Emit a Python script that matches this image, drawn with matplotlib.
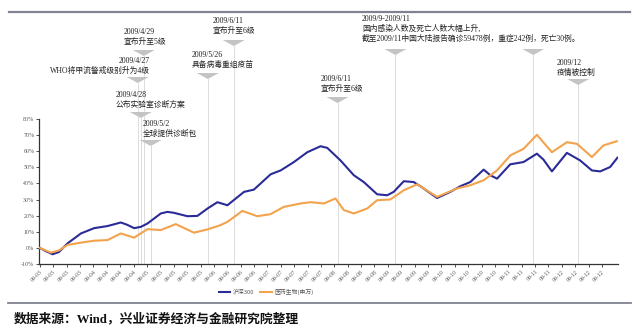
import matplotlib
matplotlib.use("Agg")
import matplotlib.pyplot as plt
import matplotlib.transforms as mtransforms
from matplotlib.patches import Polygon
from matplotlib.lines import Line2D

plt.rcParams['font.family'] = ['Liberation Serif', 'Noto Sans CJK SC']

# x axis: one tick per week, Mar 2009 .. Dec 2009
tick_labels = ['09-03', '09-03', '09-03', '09-03',
               '09-04', '09-04', '09-04', '09-04',
               '09-05', '09-05', '09-05', '09-05', '09-05',
               '09-06', '09-06', '09-06', '09-06',
               '09-07', '09-07', '09-07', '09-07', '09-07',
               '09-08', '09-08', '09-08', '09-08',
               '09-09', '09-09', '09-09', '09-09',
               '09-10', '09-10', '09-10', '09-10', '09-10',
               '09-11', '09-11', '09-11', '09-11',
               '09-12', '09-12', '09-12', '09-12']

# 沪深300 cumulative return (%), x in weeks
hs300_x = [0.0, 0.45, 0.95, 1.42, 2.07, 3.06, 4.05, 5.05, 6.04, 6.49, 7.04, 7.54,
           8.04, 9.03, 9.53, 10.02, 11.02, 11.77, 12.51, 13.26, 14.01, 15.25,
           15.99, 17.24, 17.99, 18.98, 19.98, 20.97, 21.47, 22.46, 23.46, 24.2,
           25.2, 25.95, 26.44, 27.19, 27.93, 28.43, 29.68, 30.67, 31.42, 32.16,
           33.16, 33.66, 34.16, 35.15, 36.14, 37.14, 37.63, 38.26, 39.38, 40.37,
           41.25, 41.87, 42.61, 43.16]
hs300_y = [0.0, -2.0, -3.9, -2.5, 2.9, 9.0, 12.3, 13.6, 15.8, 14.5, 12.3, 13.1,
           15.2, 21.4, 22.4, 21.8, 19.7, 19.9, 24.4, 28.4, 26.5, 34.8,
           36.2, 45.7, 48.1, 53.3, 59.4, 63.1, 62.1, 54.3, 45.1, 40.9,
           33.3, 32.7, 34.8, 41.4, 40.9, 38.3, 31.0, 34.8, 38.3, 40.9,
           48.6, 45.1, 43.0, 51.9, 53.3, 58.5, 54.8, 47.5, 59.0, 54.3,
           48.1, 47.5, 50.2, 56.0]

# 医药生物(申万) cumulative return (%)
yiyao_x = [0.0, 0.82, 1.42, 2.07, 3.06, 4.05, 5.05, 6.04, 7.04, 8.04, 9.03, 10.15,
           11.51, 12.51, 13.51, 14.01, 15.13, 16.25, 17.24, 18.23, 19.48, 20.22,
           21.22, 22.09, 22.71, 23.46, 24.46, 25.2, 26.19, 27.19, 28.19, 29.68,
           31.17, 32.16, 33.16, 34.16, 35.15, 36.14, 37.14, 38.26, 39.38, 40.13,
           41.25, 42.11, 43.11]
yiyao_y = [0.0, -2.9, -1.5, 1.9, 3.3, 4.5, 4.9, 9.0, 6.4, 11.7, 11.1, 14.8,
           9.5, 11.5, 14.2, 16.2, 23.0, 19.7, 21.0, 25.5, 27.6, 28.4,
           27.6, 30.7, 23.5, 21.4, 24.5, 29.6, 30.1, 35.8, 39.5, 31.7,
           36.9, 38.9, 42.0, 48.1, 57.4, 61.5, 70.2, 59.4, 65.6, 64.6,
           56.4, 63.6, 66.2]

# events: line position (weeks), text, text anchor px (x, top y), alignment, triangle top px
ev_x = [7.31, 7.54, 7.76, 8.28, 12.54, 14.48, 22.24, 26.57, 40.22]
ev_text = ['2009/4/27\nWHO将甲流警戒级别升为4级',
           '2009/4/28\n公布实验室诊断方案',
           '2009/4/29\n宣布升至5级',
           '2009/5/2\n全球提供诊断包',
           '2009/5/26\n具备病毒重组疫苗',
           '2009/6/11\n宣布升至6级',
           '2009/6/11\n宣布升至6级',
           '2009/9-2009/11\n国内感染人数及死亡人数大幅上升,\n截至2009/11中国大陆报告确诊59478例，重症242例，死亡30例。',
           '2009/12\n疫情被控制']
ev_pos = [(150, 57), (116, 91), (124, 28), (143, 120), (192, 51), (213, 17),
          (321, 75), (362, 15), (557, 59)]
ev_ha = ['right', 'left', 'left', 'left', 'left', 'left', 'left', 'left', 'left']
ev_tri = [77, 112, 50, 140, 73, 40, 97, 49, 79]
extra_line_x = 36.87  # second pointer of the 2009/9-2009/11 note
extra_tri = 49

W, H = 638, 333
fig = plt.figure(figsize=(W / 100, H / 100), dpi=100)
ax = fig.add_axes([39 / W, 1 - 264.1 / H, (618 - 39) / W, (264.1 - 119) / H])

blue = '#2B2B98'
orange = '#F2A34C'
ax.plot(hs300_x, hs300_y, color=blue, lw=1.5, label='沪深300', zorder=3,
        solid_joinstyle='round')
ax.plot(yiyao_x, yiyao_y, color=orange, lw=1.5, label='医药生物(申万)', zorder=3,
        solid_joinstyle='round')

ax.set_xlim(-0.07, 43.2)
ax.set_ylim(-10, 80)
ax.set_yticks(range(-10, 81, 10))
ax.set_yticklabels([f'{v}%' for v in range(-10, 81, 10)])
ax.set_xticks(range(len(tick_labels)))
ax.set_xticklabels(tick_labels, rotation=45, ha='right', rotation_mode='anchor')
ax.tick_params(axis='both', labelsize=4.2, labelcolor='#555555', length=2,
               width=0.6, color='#333333', pad=1.5)
for s in ['top', 'right']:
    ax.spines[s].set_visible(False)
for s in ['left', 'bottom']:
    ax.spines[s].set_color('#333333')
    ax.spines[s].set_linewidth(0.9)

# pixel transform (y measured from the top)
px = mtransforms.Affine2D().scale(1 / W, -1 / H).translate(0, 1) + fig.transFigure
xpx = mtransforms.blended_transform_factory(ax.transData, px)
half_w = 11 / 13.4


def pointer(x, top):
    tri = Polygon([(x - half_w, top), (x + half_w, top), (x, top + 6)],
                  closed=True, transform=xpx, facecolor='#c4c4c4',
                  edgecolor='none', clip_on=False, zorder=2)
    ax.add_patch(tri)
    ax.add_line(Line2D([x, x], [top + 6, 264], transform=xpx, color='#dcdcdc',
                       lw=0.7, clip_on=False, zorder=1))


for x, txt, (tx, ty), ha, tri in zip(ev_x, ev_text, ev_pos, ev_ha, ev_tri):
    pointer(x, tri)
    fig.text(tx, ty, txt, transform=px, ha=ha, va='top', multialignment=ha,
             fontsize=5.6, color='#222222', linespacing=1.25)
pointer(extra_line_x, extra_tri)

fig.legend(loc='center', bbox_to_anchor=(266 / W, 1 - 292 / H), ncol=2,
           frameon=False, prop={'family': ['Noto Sans CJK SC'], 'size': 4.2},
           handlelength=2.0, handletextpad=0.4, columnspacing=1.0,
           labelcolor='#555555')

# rules and source note
fig.add_artist(Line2D([9, 630], [12, 12], transform=px, color='#80838f', lw=1.6))
fig.add_artist(Line2D([8, 631], [303, 303], transform=px, color='#80838f', lw=1.3))
fig.text(14, 319, '数据来源：Wind，兴业证券经济与金融研究院整理', transform=px,
         ha='left', va='center', fontsize=9.2, color='#111111', weight='bold',
         family=['Liberation Serif', 'Noto Sans CJK SC'])

fig.savefig('out.png', dpi=100)
